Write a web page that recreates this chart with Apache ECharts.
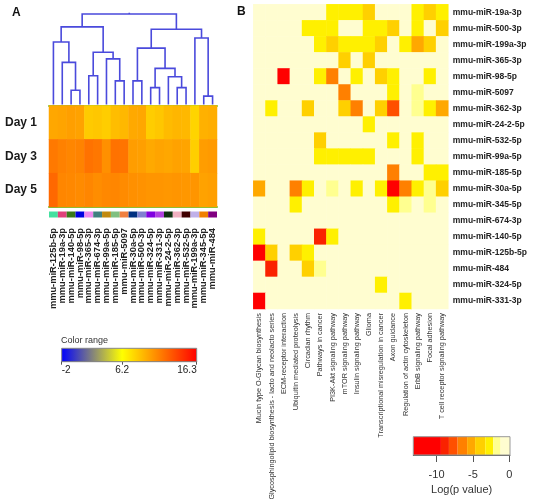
<!DOCTYPE html>
<html><head><meta charset="utf-8">
<script src="https://cdn.jsdelivr.net/npm/echarts@6/dist/echarts.min.js"></script>
<style>html,body{margin:0;padding:0;background:#fff}#c{width:533px;height:499px}</style>
</head><body><div id="c"></div>
<script>
const FONT = 'Liberation Sans, Arial, Helvetica, sans-serif';

// ---------- Panel A data ----------
const leafLabels = ['mmu-miR-125b-5p','mmu-miR-19a-3p','mmu-miR-140-5p','mmu-miR-98-5p','mmu-miR-365-3p','mmu-miR-674-3p','mmu-miR-99a-5p','mmu-miR-185-5p','mmu-miR-5097','mmu-miR-30a-5p','mmu-miR-500-3p','mmu-miR-324-5p','mmu-miR-331-3p','mmu-miR-24-2-5p','mmu-miR-362-3p','mmu-miR-532-5p','mmu-miR-199a-3p','mmu-miR-345-5p','mmu-miR-484'];
const days = ['Day 1','Day 3','Day 5'];
const day1 = [9.7, 9.8, 10.0, 9.9, 8.3, 8.4, 8.2, 8.8, 9.0, 9.6, 9.7, 8.2, 8.4, 8.9, 9.1, 9.0, 7.9, 9.3, 9.4];
const day3 = [11.5, 11.2, 11.0, 11.1, 11.8, 11.6, 10.6, 11.8, 11.7, 10.1, 10.0, 9.6, 9.8, 9.7, 9.9, 9.8, 8.1, 10.1, 10.2];
const day5 = [12.2, 11.0, 10.9, 10.8, 11.0, 10.7, 10.9, 11.0, 10.8, 10.6, 10.5, 10.4, 10.4, 10.3, 10.4, 10.3, 10.4, 9.9, 10.0];
const leafColors = ['#44e0a0','#e0407a','#3a7a1a','#0000e0','#ee88ee','#408080','#c08a10','#80c080','#f08040','#003080','#8080d0','#8000e0','#b040e0','#103010','#f0b0c0','#400000','#c0b0e8','#f08000','#800080'];
// linkage rows: [childA, childB, height]; leaves are 0..18, new clusters 19, 20, ...
const linkage = [
  [2, 3, 1.57], [17, 18, 0.93], [11, 12, 1.86], [14, 15, 1.86], [7, 8, 2.61], [9, 10, 2.61],
  [13, 22, 3.06], [4, 5, 3.17], [21, 25, 3.99], [1, 19, 4.66], [6, 23, 5.04], [26, 29, 5.78],
  [24, 27, 6.23], [0, 28, 6.9], [16, 20, 7.35], [31, 33, 8.32], [32, 30, 8.58], [35, 34, 10]
];
const rootStub = 0.15;
const rangeValues = [-2, 6.2, 16.3];
const rangeColors = ['#0000ff', '#ffff00', '#ff0000'];

// ---------- Panel B data ----------
const pathways = ['Mucin type O-Glycan biosynthesis','Glycosphingolipid biosynthesis - lacto and neolacto series','ECM-receptor interaction','Ubiquitin mediated proteolysis','Circadian rhythm','Pathways in cancer','PI3K-Akt signaling pathway','mTOR signaling pathway','Insulin signaling pathway','Glioma','Transcriptional misregulation in cancer','Axon guidance','Regulation of actin cytoskeleton','ErbB signaling pathway','Focal adhesion','T cell receptor signaling pathway'];
const mirnasB = ['mmu-miR-19a-3p','mmu-miR-500-3p','mmu-miR-199a-3p','mmu-miR-365-3p','mmu-miR-98-5p','mmu-miR-5097','mmu-miR-362-3p','mmu-miR-24-2-5p','mmu-miR-532-5p','mmu-miR-99a-5p','mmu-miR-185-5p','mmu-miR-30a-5p','mmu-miR-345-5p','mmu-miR-674-3p','mmu-miR-140-5p','mmu-miR-125b-5p','mmu-miR-484','mmu-miR-324-5p','mmu-miR-331-3p'];
const r19a3p  = [0,0,0,0,0,0,-3,-3,-3,-4.5,0,0,0,-3,-4,-2.7];
const r5003p  = [0,0,0,0,-3,-2.7,-3,0,0,-3,-3,-4,0,-3,0,-4];
const r199a3p = [0,0,0,0,0,-3,-4.5,-3,-3,-3,-4,0,-3,-5,-4.5,0];
const r3653p  = [0,0,0,0,0,0,0,-4,0,-4,0,0,0,0,0,0];
const r985p   = [0,0,-11,0,0,-3,-6.5,0,-3,0,-4,-3,0,0,-3,0];
const r5097   = [0,0,0,0,0,0,0,-6.2,0,0,0,-3,0,-1.8,0,0];
const r3623p  = [0,-2.7,0,0,-4,0,0,-4,-6.5,0,-4,-7.5,0,-1.8,-3,-5];
const r2425p  = [0,0,0,0,0,0,0,0,0,-3,0,0,0,0,0,0];
const r5325p  = [0,0,0,0,0,-4,0,0,0,0,0,-3,0,-3,0,0];
const r99a5p  = [0,0,0,0,0,-2.7,-2.7,-2.7,-2.7,-2.7,0,0,0,-2.7,0,0];
const r1855p  = [0,0,0,0,0,0,0,0,0,0,0,-6.5,0,0,-3,-3];
const r30a5p  = [-5,0,0,-6.5,-3,0,-1.8,0,-3,0,-3,-11,-6.5,-3,-1.8,-4.5];
const r3455p  = [0,0,0,-3,0,0,0,0,0,0,0,-3,-1.8,0,-1.8,0];
const r6743p  = [0,0,0,0,0,0,0,0,0,0,0,0,0,0,0,0];
const r1405p  = [-3,0,0,0,0,-8.8,-3,0,0,0,0,0,0,0,0,0];
const r125b5p = [-11,-4.5,0,-4.2,-3,0,0,0,0,0,0,0,0,0,0,0];
const r484    = [0,-8.8,0,0,-4.2,-1.8,0,0,0,0,0,0,0,0,0,0];
const r3245p  = [0,0,0,0,0,0,0,0,0,0,-2.7,0,0,0,0,0];
const r3313p  = [-11,0,0,0,0,0,0,0,0,0,0,0,-2.7,0,0,0];
const logPRows = [r19a3p, r5003p, r199a3p, r3653p, r985p, r5097, r3623p, r2425p, r5325p, r99a5p, r1855p, r30a5p, r3455p, r6743p, r1405p, r125b5p, r484, r3245p, r3313p];
const pBreaks = [-13.2, -9.4, -8.3, -7.1, -5.8, -4.7, -3.3, -2.2, -1.2, 0.1];
const pColors = ['#ff0000', '#fa2200', '#ff5000', '#ff8000', '#ffa800', '#ffd000', '#fff000', '#ffff90', '#fffdd0'];
const pTicks = [-10, -5, 0];

// ---------- helpers ----------
function hex2rgb(h){ return [parseInt(h.slice(1,3),16), parseInt(h.slice(3,5),16), parseInt(h.slice(5,7),16)]; }
function rangeColor(v){
  let i = 0;
  while (i < rangeValues.length - 2 && v > rangeValues[i+1]) i++;
  let t = (v - rangeValues[i]) / (rangeValues[i+1] - rangeValues[i]);
  t = Math.max(0, Math.min(1, t));
  const a = hex2rgb(rangeColors[i]), b = hex2rgb(rangeColors[i+1]);
  return 'rgb(' + a.map((x,k)=>Math.round(x + (b[k]-x)*t)).join(',') + ')';
}
function pColor(v){
  for (let i = 0; i < pColors.length; i++) if (v < pBreaks[i+1]) return pColors[i];
  return pColors[pColors.length-1];
}

// dendrogram segments
const nLeaf = leafLabels.length;
const node = leafLabels.map((_, i) => ({x: i, h: 0}));
const segs = [];
linkage.forEach(([a, b, h]) => {
  node.push({x: (node[a].x + node[b].x) / 2, h});
  segs.push([node[a].x, node[a].h, node[b].x, node[b].h, h]);
});
const root = node[node.length-1];
segs.push([root.x, root.h, root.x, root.h, root.h + rootStub]);

const heatA = [];
[day1, day3, day5].forEach((row, r) => row.forEach((v, c) => heatA.push({value: [c, r, v], itemStyle: {color: rangeColor(v)}})));
const heatB = [];
logPRows.forEach((row, r) => row.forEach((v, c) => heatB.push({value: [c, r, v], itemStyle: {color: pColor(v)}})));

const chart = echarts.init(document.getElementById('c'));
const noAxis = {show: false};
const gridBase = {outerBoundsMode: 'none', containLabel: false};

chart.setOption({
  animation: false,
  backgroundColor: '#fff',
  textStyle: {fontFamily: FONT},
  title: [
    {text: 'A', left: 12, top: 7, padding: 0, textStyle: {fontFamily: FONT, fontSize: 12, fontWeight: 'bold', color: '#111'}},
    {text: 'B', left: 237, top: 6, padding: 0, textStyle: {fontFamily: FONT, fontSize: 12, fontWeight: 'bold', color: '#111'}},
    {text: 'Color range', left: 61, top: 336, padding: 0, textStyle: {fontFamily: FONT, fontSize: 9, fontWeight: 'normal', color: '#333'}}
  ],
  grid: [
    Object.assign({left: 49, top: 14, width: 168, height: 90.5}, gridBase),
    Object.assign({left: 49, top: 105.5, width: 168, height: 101.5}, gridBase),
    Object.assign({left: 49, top: 211.5, width: 168, height: 6}, gridBase),
    Object.assign({left: 253.3, top: 4.3, width: 195, height: 304.7}, gridBase),
    Object.assign({left: 61.7, top: 348.3, width: 135, height: 13.4}, gridBase),
    Object.assign({left: 413.3, top: 436.7, width: 96.7, height: 18.3}, gridBase)
  ],
  xAxis: [
    {gridIndex: 0, type: 'value', min: -0.5, max: nLeaf - 0.5, show: false},
    {gridIndex: 1, type: 'category', data: leafLabels, axisLine: {lineStyle: {color: '#6ccc44', width: 2}}, axisTick: noAxis, axisLabel: noAxis, splitLine: noAxis},
    {gridIndex: 1, type: 'category', position: 'top', data: leafLabels, axisLine: {lineStyle: {color: '#6ccc44', width: 2}}, axisTick: noAxis, axisLabel: noAxis, splitLine: noAxis},
    {gridIndex: 2, type: 'category', data: leafLabels, axisLine: noAxis, axisTick: noAxis,
      axisLabel: {rotate: 90, interval: 0, margin: 10.5, fontSize: 9.3, fontWeight: 'bold', color: '#222', fontFamily: FONT}},
    {gridIndex: 3, type: 'category', data: pathways, axisLine: noAxis, axisTick: noAxis,
      axisLabel: {rotate: 90, interval: 0, margin: 4, fontSize: 7.3, color: '#333', fontFamily: FONT}},
    {gridIndex: 4, type: 'value', min: rangeValues[0], max: rangeValues[2], splitLine: noAxis,
      axisLine: {show: true, lineStyle: {color: '#555', width: 1}},
      axisTick: {show: true, length: 3, lineStyle: {color: '#555'}, customValues: rangeValues},
      axisLabel: {customValues: rangeValues, margin: 4, fontSize: 10, color: '#222', fontFamily: FONT, alignMinLabel: 'left', alignMaxLabel: 'right'}},
    {gridIndex: 5, type: 'value', min: pBreaks[0], max: pBreaks[pBreaks.length-1], splitLine: noAxis,
      axisLine: {show: true, lineStyle: {color: '#555', width: 1}},
      axisTick: {show: true, length: 7, lineStyle: {color: '#555'}, customValues: pTicks},
      axisLabel: {customValues: pTicks, margin: 14, fontSize: 11, color: '#333', fontFamily: FONT},
      name: 'Log(p value)', nameLocation: 'middle', nameGap: 29, nameTextStyle: {fontSize: 11, color: '#333', fontFamily: FONT}}
  ],
  yAxis: [
    {gridIndex: 0, type: 'value', min: 0, max: 10, show: false},
    {gridIndex: 1, type: 'category', data: days, inverse: true, axisLine: noAxis, axisTick: noAxis, splitLine: noAxis,
      axisLabel: {margin: 12, fontSize: 12, fontWeight: 'bold', color: '#1a1a1a', fontFamily: FONT}},
    {gridIndex: 2, type: 'value', min: 0, max: 1, show: false},
    {gridIndex: 3, type: 'category', data: mirnasB, inverse: true, position: 'right', axisLine: noAxis, axisTick: noAxis, splitLine: noAxis,
      axisLabel: {margin: 4.5, fontSize: 8.5, fontWeight: 'bold', color: '#222', fontFamily: FONT, interval: 0}},
    {gridIndex: 4, type: 'value', min: 0, max: 1, show: false},
    {gridIndex: 5, type: 'value', min: 0, max: 1, show: false}
  ],
  series: [
    {type: 'custom', xAxisIndex: 0, yAxisIndex: 0, clip: false, data: segs, silent: true,
      encode: {x: [0, 2], y: [1, 3, 4]},
      renderItem(params, api){
        const p1 = api.coord([api.value(0), api.value(1)]);
        const p2 = api.coord([api.value(0), api.value(4)]);
        const p3 = api.coord([api.value(2), api.value(4)]);
        const p4 = api.coord([api.value(2), api.value(3)]);
        return {type: 'polyline', shape: {points: [p1, p2, p3, p4]}, style: {stroke: '#4a4adc', lineWidth: 1.6, fill: null}};
      }},
    {type: 'heatmap', xAxisIndex: 1, yAxisIndex: 1, data: heatA, silent: true, emphasis: {disabled: true}},
    {type: 'bar', xAxisIndex: 3, yAxisIndex: 2, barCategoryGap: '0%', silent: true,
      data: leafColors.map(c => ({value: 1, itemStyle: {color: c}}))},
    {type: 'heatmap', xAxisIndex: 4, yAxisIndex: 3, data: heatB, silent: true, emphasis: {disabled: true}},
    {type: 'custom', xAxisIndex: 5, yAxisIndex: 4, silent: true, data: [[rangeValues[0], rangeValues[2]]],
      renderItem(params, api){
        const a = api.coord([api.value(0), 1]), b = api.coord([api.value(1), 0]);
        const span = rangeValues[2] - rangeValues[0];
        const stops = rangeValues.map((v, i) => ({offset: (v - rangeValues[0]) / span, color: rangeColors[i]}));
        return {type: 'rect', shape: {x: a[0], y: a[1], width: b[0]-a[0], height: b[1]-a[1]},
          style: {fill: new echarts.graphic.LinearGradient(0, 0, 1, 0, stops), stroke: '#888', lineWidth: 1}};
      }},
    {type: 'custom', xAxisIndex: 6, yAxisIndex: 5, silent: true,
      data: pColors.map((c, i) => [pBreaks[i], pBreaks[i+1], i]),
      renderItem(params, api){
        const a = api.coord([api.value(0), 1]), b = api.coord([api.value(1), 0]);
        return {type: 'rect', shape: {x: a[0], y: a[1], width: b[0]-a[0], height: b[1]-a[1]}, style: {fill: pColors[api.value(2)]}};
      }},
    {type: 'custom', xAxisIndex: 6, yAxisIndex: 5, silent: true, z: 3,
      data: [[pBreaks[0], pBreaks[pBreaks.length-1]]],
      renderItem(params, api){
        const a = api.coord([api.value(0), 1]), b = api.coord([api.value(1), 0]);
        return {type: 'rect', shape: {x: a[0], y: a[1], width: b[0]-a[0], height: b[1]-a[1]}, style: {fill: null, stroke: '#999', lineWidth: 1}};
      }}
  ]
});
</script></body></html>
